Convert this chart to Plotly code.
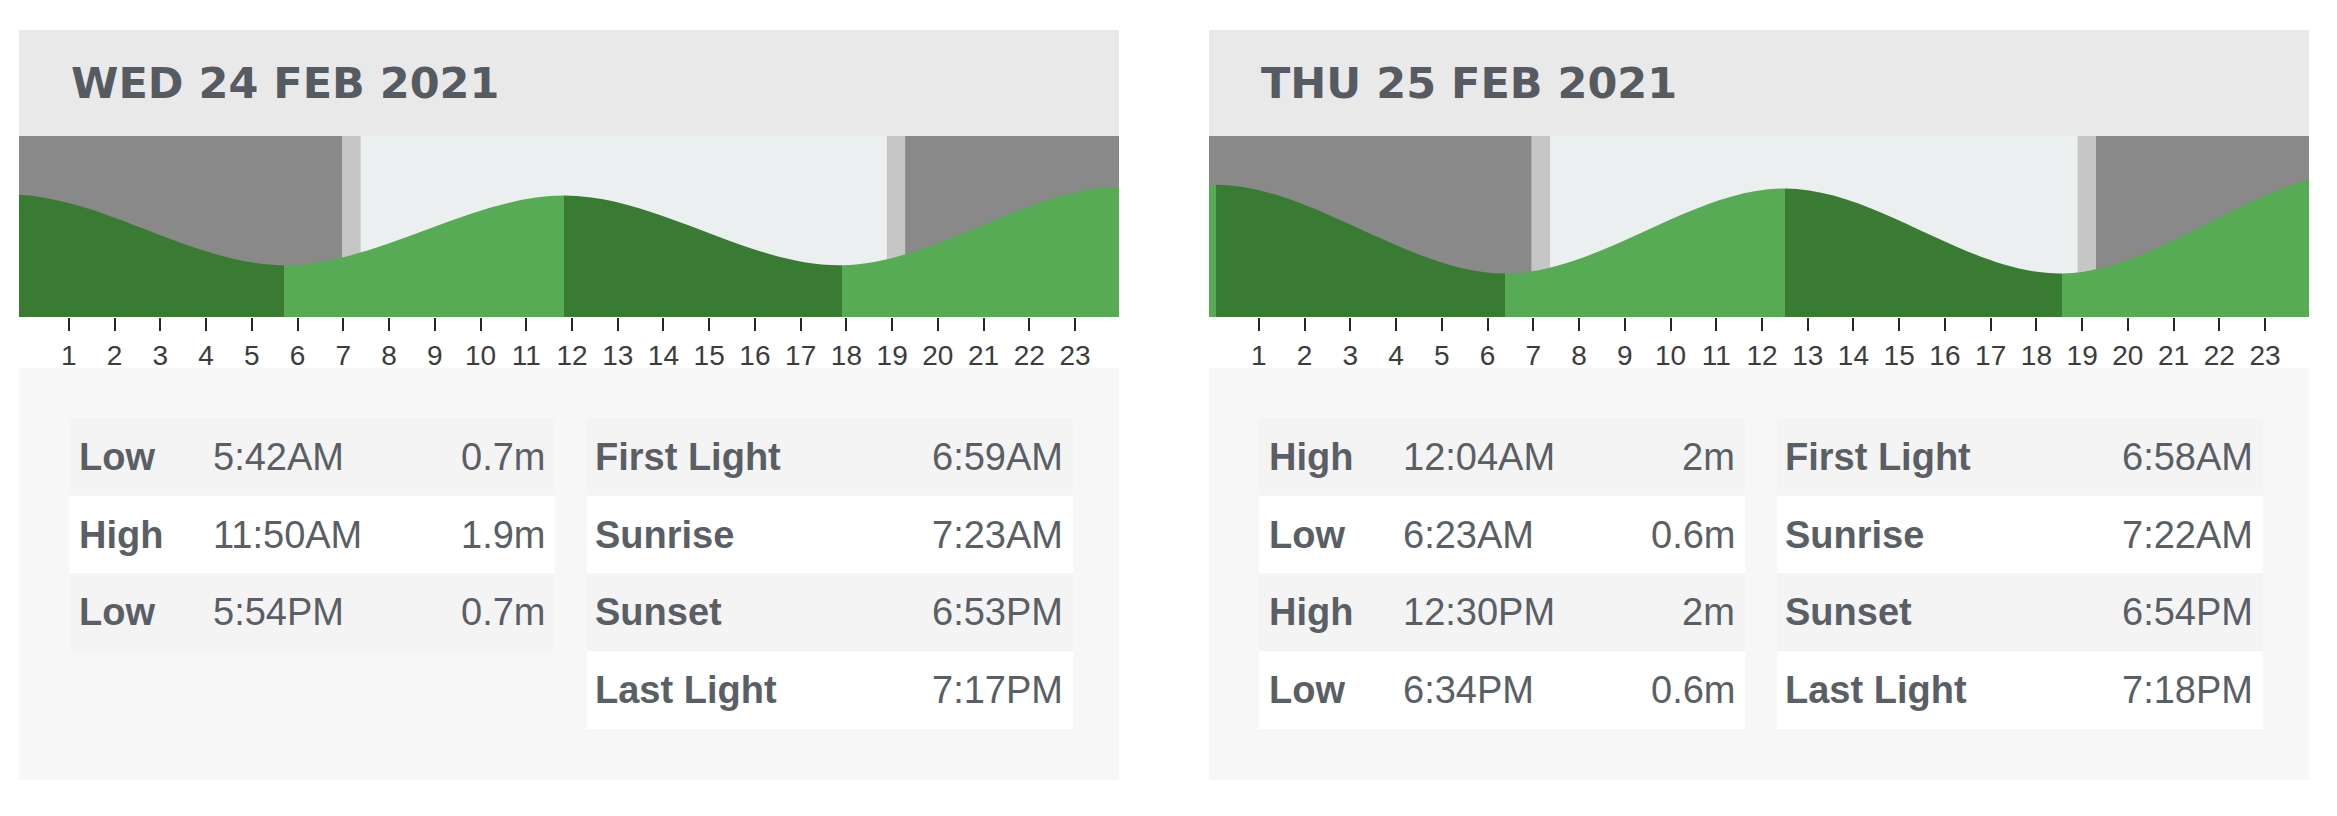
import plotly.graph_objects as go

# page body adds an 8px margin, so the figure is drawn at (8, 8)
W, H = 2321, 800
OFF = 8

# ---- data ----
day_titles = ["WED 24 FEB 2021", "THU 25 FEB 2021"]
hour_ticks = list(range(1, 24))

wed_tide_type = ["Low", "High", "Low"]
wed_tide_time = ["5:42AM", "11:50AM", "5:54PM"]
wed_tide_height = ["0.7m", "1.9m", "0.7m"]

thu_tide_type = ["High", "Low", "High", "Low"]
thu_tide_time = ["12:04AM", "6:23AM", "12:30PM", "6:34PM"]
thu_tide_height = ["2m", "0.6m", "2m", "0.6m"]

sun_labels = ["First Light", "Sunrise", "Sunset", "Last Light"]
wed_sun_time = ["6:59AM", "7:23AM", "6:53PM", "7:17PM"]
thu_sun_time = ["6:58AM", "7:22AM", "6:54PM", "7:18PM"]

# tide turning points for the curve (hours after midnight, metres),
# incl. the turns of the neighbouring days just outside the window
wed_curve_hours = [-6.2, -0.3, 5.70, 11.83, 17.90, 24.07, 30.38]
wed_curve_m = [0.72, 1.92, 0.7, 1.9, 0.7, 2.06, 0.6]
thu_curve_hours = [-6.1, 0.07, 6.38, 12.5, 18.57, 25.0, 31.2]
thu_curve_m = [0.7, 2.06, 0.6, 2.0, 0.6, 2.25, 0.55]

# ---- look ----
HEADER = "#e9e9e9"
LOWER = "#f7f7f7"
ROW_GREY = "#f4f4f4"
ROW_WHITE = "#ffffff"
NIGHT = "#898989"
TWILIGHT = "#c6c6c6"
DAY = "#eceff0"
FALLING = "#3a7b34"
RISING = "#58ab55"
TEXT = "#5a5f66"

PANEL_LEFT = [19, 1209]
PANEL_W = 1100
HEAD_TOP, CHART_TOP, CHART_BOT, LOWER_TOP, LOWER_BOT = 30, 136, 317, 368, 780
X_RANGE = [-0.09, 23.96]
Y_RANGES = [[-0.193, 2.928], [-0.115, 2.862]]
ROW_TOP, ROW_H = 418, 77.75


def px(x):
    return (x - OFF) / W


def py(y):
    return 1 - (y - OFF) / H


def to_hours(s):
    hh, rest = s.split(":")
    h = int(hh) % 12 + (12 if rest.endswith("PM") else 0)
    return h + int(rest[:2]) / 60


def tide_colorscale(hours, heights):
    # dark green while the tide falls, light green while it rises
    segs = []
    for i in range(len(hours) - 1):
        a, b = max(hours[i], 0), min(hours[i + 1], 24)
        if b <= a:
            continue
        segs.append((a, b, FALLING if heights[i + 1] < heights[i] else RISING))
    scale = [[0, segs[0][2]]]
    for (a, b, c), (a2, b2, c2) in zip(segs[:-1], segs[1:]):
        scale += [[b / 24, c], [b / 24, c2]]
    scale.append([1, segs[-1][2]])
    return scale


fig = go.Figure()
shapes, annotations = [], []

days = [
    (wed_curve_hours, wed_curve_m, wed_sun_time, wed_tide_type, wed_tide_time, wed_tide_height),
    (thu_curve_hours, thu_curve_m, thu_sun_time, thu_tide_type, thu_tide_time, thu_tide_height),
]

for i, (c_hours, c_m, sun_time, t_type, t_time, t_height) in enumerate(days):
    p = PANEL_LEFT[i]
    n = "" if i == 0 else str(i + 1)
    xa, ya = "x" + n, "y" + n
    lo, hi = Y_RANGES[i]

    fig.update_layout(**{
        "xaxis" + n: dict(
            domain=[px(p), px(p + PANEL_W)], range=X_RANGE, anchor=ya,
            tickmode="array", tickvals=hour_ticks, ticktext=[str(h) for h in hour_ticks],
            ticks="outside", ticklen=13, tickwidth=2, tickcolor="#262626",
            tickfont=dict(family="Liberation Sans, Arial", size=28, color="#3c3c3c"),
            showgrid=False, zeroline=False, showline=False, fixedrange=True,
        ),
        "yaxis" + n: dict(
            domain=[py(CHART_BOT), py(CHART_TOP)], range=[lo, hi], anchor=xa,
            visible=False, showgrid=False, zeroline=False, fixedrange=True,
        ),
    })

    # baseline under the chart, the tide fills up to the curve from here
    fig.add_trace(go.Scatter(
        x=[c_hours[0], c_hours[-1]], y=[lo - 1, lo - 1], xaxis=xa, yaxis=ya,
        mode="lines", line=dict(width=0, color="rgba(0,0,0,0)"),
        showlegend=False, hoverinfo="skip",
    ))
    fig.add_trace(go.Scatter(
        x=c_hours, y=c_m, xaxis=xa, yaxis=ya,
        mode="lines", line=dict(width=0, shape="spline", smoothing=1, color="rgba(0,0,0,0)"),
        fill="tonexty",
        fillgradient=dict(type="horizontal", start=0, stop=24,
                          colorscale=tide_colorscale(c_hours, c_m)),
        showlegend=False, hoverinfo="skip",
    ))

    # night / twilight / day behind the tide
    fl, sr, ss, ll = [to_hours(s) for s in sun_time]
    bands = [(X_RANGE[0], fl, NIGHT), (fl, sr, TWILIGHT), (sr, ss, DAY),
             (ss, ll, TWILIGHT), (ll, X_RANGE[1], NIGHT)]
    for a, b, c in bands:
        shapes.append(dict(type="rect", xref=xa, yref=ya + " domain", x0=a, x1=b, y0=0, y1=1,
                           fillcolor=c, line_width=0, layer="below"))

    # header and lower panel
    shapes.append(dict(type="rect", xref="paper", yref="paper", x0=px(p), x1=px(p + PANEL_W),
                       y0=py(CHART_TOP), y1=py(HEAD_TOP), fillcolor=HEADER, line_width=0, layer="below"))
    shapes.append(dict(type="rect", xref="paper", yref="paper", x0=px(p), x1=px(p + PANEL_W),
                       y0=py(LOWER_BOT), y1=py(LOWER_TOP), fillcolor=LOWER, line_width=0, layer="below"))

    annotations.append(dict(
        text=day_titles[i], xref="paper", yref="paper", x=px(p + 50), y=py(83),
        xanchor="left", yanchor="middle", showarrow=False,
        font=dict(family="DejaVu Sans", size=43, color="#565b62", weight="bold"),
    ))

    # tide table
    for k in range(len(t_type)):
        top = ROW_TOP + k * ROW_H
        mid = top + ROW_H / 2
        shapes.append(dict(type="rect", xref="paper", yref="paper", x0=px(p + 50), x1=px(p + 536),
                           y0=py(top + ROW_H), y1=py(top), fillcolor=ROW_GREY if k % 2 == 0 else ROW_WHITE,
                           line_width=0, layer="below"))
        for txt, x, anc, bold in [(t_type[k], p + 58, "left", True), (t_time[k], p + 192, "left", False),
                                  (t_height[k], p + 528, "right", False)]:
            annotations.append(dict(
                text=txt, xref="paper", yref="paper", x=px(x), y=py(mid), xanchor=anc, yanchor="middle",
                showarrow=False,
                font=dict(family="Liberation Sans, Arial", size=38, color=TEXT, weight="bold" if bold else "normal"),
            ))

    # sun table
    for k in range(len(sun_labels)):
        top = ROW_TOP + k * ROW_H
        mid = top + ROW_H / 2
        shapes.append(dict(type="rect", xref="paper", yref="paper", x0=px(p + 568), x1=px(p + 1054),
                           y0=py(top + ROW_H), y1=py(top), fillcolor=ROW_GREY if k % 2 == 0 else ROW_WHITE,
                           line_width=0, layer="below"))
        for txt, x, anc, bold in [(sun_labels[k], p + 574, "left", True), (sun_time[k], p + 1046, "right", False)]:
            annotations.append(dict(
                text=txt, xref="paper", yref="paper", x=px(x), y=py(mid), xanchor=anc, yanchor="middle",
                showarrow=False,
                font=dict(family="Liberation Sans, Arial", size=38, color=TEXT, weight="bold" if bold else "normal"),
            ))

fig.update_layout(
    width=W, height=H, autosize=False,
    margin=dict(l=0, r=0, t=0, b=0),
    paper_bgcolor="white", plot_bgcolor="rgba(0,0,0,0)",
    showlegend=False, shapes=shapes, annotations=annotations,
)

fig.write_html("out.html", config={"displayModeBar": False})
